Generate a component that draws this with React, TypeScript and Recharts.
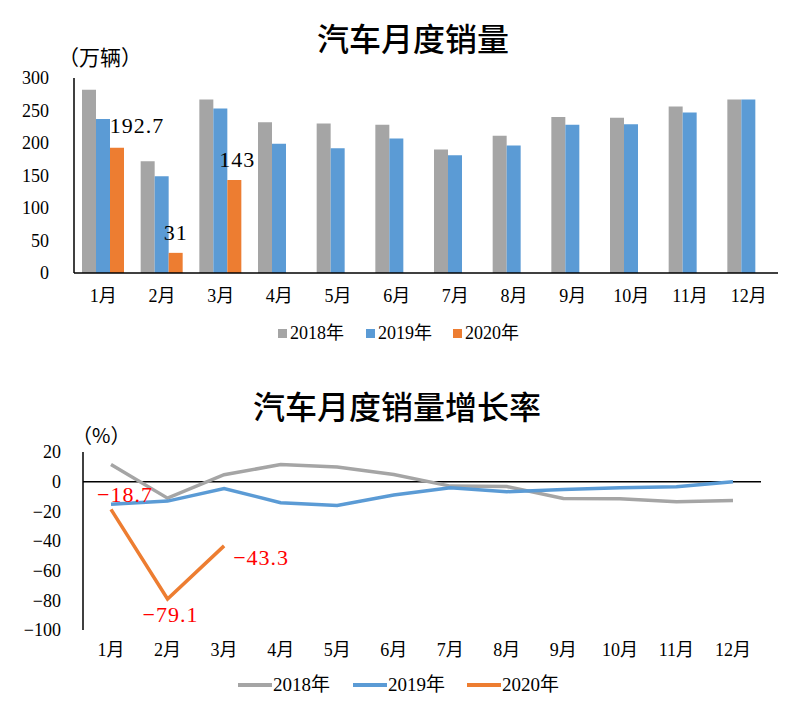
import React from 'react';
import { BarChart, Bar, XAxis, YAxis, LabelList, LineChart, Line, ReferenceLine } from 'recharts';

const months = ['1月', '2月', '3月', '4月', '5月', '6月', '7月', '8月', '9月', '10月', '11月', '12月'];
const seriesNames = ['2018年', '2019年', '2020年'];
const sales2018 = [282, 172, 267, 232, 230, 228, 190, 211, 240, 239, 256, 267];
const sales2019 = [237, 149, 253, 199, 192, 207, 181, 196, 228, 229, 247, 267];
const sales2020: (number | null)[] = [192.7, 31, 143, null, null, null, null, null, null, null, null, null];
const salesTicks = [0, 50, 100, 150, 200, 250, 300];

const growth2018 = [11.6, -11.1, 4.7, 11.5, 9.9, 4.8, -3.0, -3.3, -11.4, -11.5, -13.5, -12.7];
const growth2019 = [-15.3, -13.1, -4.6, -14.2, -16.0, -9.0, -4.1, -6.8, -5.2, -4.1, -3.4, 0.0];
const growth2020: (number | null)[] = [-18.7, -79.1, -43.3, null, null, null, null, null, null, null, null, null];
const growthTicks = [-100, -80, -60, -40, -20, 0, 20];

const COLORS = ['#A5A5A5', '#5B9BD5', '#ED7D31'];
const FONT = "'Liberation Serif', 'Noto Sans CJK SC', serif";
const CJK = "'Noto Sans CJK SC', sans-serif";

const barData = months.map((m, i) => ({ month: m, s2018: sales2018[i], s2019: sales2019[i], s2020: sales2020[i] }));
const lineData = months.map((m, i) => ({ month: m, g2018: growth2018[i], g2019: growth2019[i], g2020: growth2020[i] }));

const barLabelShift = [[20, -22], [0, -20], [3, -21]];
const lineLabelShift = [[14, -15], [3, 16], [37, 12]];

const fmtMinus = (v: any) => String(v).replace('-', '\u2212');

const renderBarLabel = (props: any) => {
  const { x, y, width, value, index } = props;
  if (value === null || value === undefined) return null;
  const s = barLabelShift[index] || [0, -20];
  return (
    <text x={Number(x) + Number(width) / 2 + s[0]} y={Number(y) + s[1]} textAnchor="middle" dominantBaseline="central"
      fontSize={22} fontFamily={FONT} fill="#000" letterSpacing={1}>
      {value}
    </text>
  );
};

const renderLineLabel = (props: any) => {
  const { x, y, value, index } = props;
  if (value === null || value === undefined) return null;
  const s = lineLabelShift[index] || [0, -15];
  return (
    <text x={Number(x) + s[0]} y={Number(y) + s[1]} textAnchor="middle" dominantBaseline="central"
      fontSize={22} fontFamily={FONT} fill="#FF0000" letterSpacing={1}>
      {fmtMinus(value)}
    </text>
  );
};

const tickStyle = { fill: '#000', fontSize: 18, fontFamily: FONT };

const abs = (left: number, top: number, extra: React.CSSProperties = {}): React.CSSProperties => ({
  position: 'absolute', left, top, whiteSpace: 'nowrap', ...extra,
});

export default function App() {
  return (
    <div style={{ position: 'absolute', left: 0, top: 0, width: 802, height: 707, background: '#fff', overflow: 'hidden' }}>
      {/* Top chart */}
      <div style={abs(317, 21, { fontSize: 32, lineHeight: '32px', fontFamily: CJK, fontWeight: 500, color: '#000' })}>汽车月度销量</div>
      <div style={abs(58, 46, { fontSize: 21, lineHeight: '21px', fontFamily: CJK, color: '#000' })}>（万辆）</div>
      <div style={abs(0, 0)}>
        <BarChart width={802} height={350} data={barData} margin={{ top: 78, right: 24, bottom: 47, left: 0 }} barGap={0} barSize={14}>
          <XAxis dataKey="month" height={30} interval={0} axisLine={{ stroke: '#000', strokeWidth: 1.5 }} tickLine={false} tickSize={0} tickMargin={16} tick={tickStyle} />
          <YAxis width={74} domain={[0, 300]} ticks={salesTicks} interval={0} axisLine={{ stroke: '#000', strokeWidth: 1.5 }} tickLine={false} tickSize={0} tickMargin={25} tick={tickStyle} />
          <Bar dataKey="s2018" fill={COLORS[0]} isAnimationActive={false} />
          <Bar dataKey="s2019" fill={COLORS[1]} isAnimationActive={false} />
          <Bar dataKey="s2020" fill={COLORS[2]} isAnimationActive={false}>
            <LabelList dataKey="s2020" content={renderBarLabel} />
          </Bar>
        </BarChart>
      </div>
      {seriesNames.map((n, i) => (
        <div key={n} style={abs([278, 366, 453][i], 322, { display: 'flex', alignItems: 'center', height: 22 })}>
          <span style={{ display: 'inline-block', width: 9, height: 9, background: COLORS[i], marginRight: 3 }} />
          <span style={{ fontSize: 18, lineHeight: '22px', fontFamily: FONT, color: '#000' }}>{n}</span>
        </div>
      ))}

      {/* Bottom chart */}
      <div style={abs(253, 389, { fontSize: 32, lineHeight: '32px', fontFamily: CJK, fontWeight: 500, color: '#000' })}>汽车月度销量增长率</div>
      <div style={abs(72, 425, { fontSize: 20, lineHeight: '20px', fontFamily: CJK, color: '#000' })}>（%）</div>
      <div style={abs(0, 360)}>
        <LineChart width={802} height={347} data={lineData} margin={{ top: 92, right: 41, bottom: 47, left: 0 }}>
          <XAxis dataKey="month" height={30} interval={0} axisLine={false} tickLine={false} tickSize={0} tickMargin={13} padding={{ left: 28, right: 28 }} tick={tickStyle} />
          <YAxis width={83} domain={[-100, 20]} ticks={growthTicks} interval={0} axisLine={{ stroke: '#000', strokeWidth: 1.5 }} tickLine={false} tickSize={0} tickMargin={22} tick={tickStyle} tickFormatter={fmtMinus} />
          <ReferenceLine y={0} stroke="#000" strokeWidth={1.5} />
          <Line dataKey="g2018" stroke={COLORS[0]} strokeWidth={3.5} dot={false} isAnimationActive={false} />
          <Line dataKey="g2019" stroke={COLORS[1]} strokeWidth={3.5} dot={false} isAnimationActive={false} />
          <Line dataKey="g2020" stroke={COLORS[2]} strokeWidth={3.5} dot={false} isAnimationActive={false}>
            <LabelList dataKey="g2020" content={renderLineLabel} />
          </Line>
        </LineChart>
      </div>
      {seriesNames.map((n, i) => (
        <div key={n + 'l'} style={abs([238, 353, 467][i], 674, { display: 'flex', alignItems: 'center', height: 22 })}>
          <span style={{ display: 'inline-block', width: 34, height: 4, background: COLORS[i], marginRight: 1 }} />
          <span style={{ fontSize: 19, lineHeight: '22px', fontFamily: FONT, color: '#000' }}>{n}</span>
        </div>
      ))}
    </div>
  );
}
